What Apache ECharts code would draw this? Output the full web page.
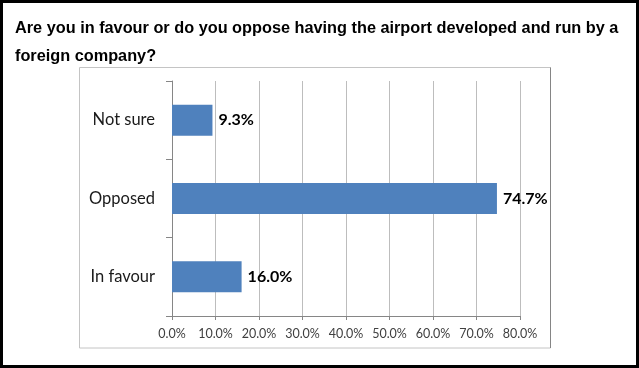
<!DOCTYPE html>
<html>
<head>
<meta charset="utf-8">
<script src="https://cdn.jsdelivr.net/npm/echarts@6/dist/echarts.min.js"></script>
<style>html,body{margin:0;padding:0;background:#fff}#c{width:639px;height:368px}</style>
</head>
<body>
<div id="c"></div>
<script>
const titleText = 'Are you in favour or do you oppose having the airport developed and run by a\nforeign company?';
const categories = ['In favour', 'Opposed', 'Not sure'];
const values = [16.0, 74.7, 9.3];
const xTicks = { min: 0, max: 80, interval: 10 };

const chart = echarts.init(document.getElementById('c'), null, { renderer: 'canvas' });
chart.setOption({
  animation: false,
  backgroundColor: '#fff',
  title: {
    text: titleText,
    left: 10, top: 10,
    textStyle: { fontFamily: 'Liberation Sans, Arial, sans-serif', fontWeight: 'bold', fontSize: 16.3, color: '#000', lineHeight: 28 }
  },
  graphic: [
    { type: 'rect', shape: { x: 79.5, y: 67.5, width: 471, height: 280.5 }, style: { fill: 'none', stroke: '#c4c4c4', lineWidth: 1 }, z: -1 },
    { type: 'line', shape: { x1: 550.5, y1: 67.5, x2: 550.5, y2: 348 }, style: { stroke: '#858585', lineWidth: 1 }, z: -1 },
    { type: 'rect', shape: { x: 1.5, y: 1.5, width: 636, height: 365 }, style: { fill: 'none', stroke: '#000', lineWidth: 3 }, z: 10 }
  ],
  grid: { left: 172, right: 119, top: 81, bottom: 52, containLabel: false },
  xAxis: {
    type: 'value', min: xTicks.min, max: xTicks.max, interval: xTicks.interval,
    axisLine: { show: true, lineStyle: { color: '#868686' } },
    axisTick: { show: true, length: 4, lineStyle: { color: '#868686' } },
    axisLabel: { margin: 11, fontFamily: 'Lato, sans-serif', fontSize: 12.5, color: '#404040', formatter: v => v.toFixed(1) + '%' },
    splitLine: { show: true, lineStyle: { color: '#bdbdbd' } }
  },
  yAxis: {
    type: 'category', data: categories,
    axisLine: { show: true, lineStyle: { color: '#868686' } },
    axisTick: { show: true, length: 6, lineStyle: { color: '#868686' } },
    axisLabel: { margin: 17, fontFamily: 'Lato, sans-serif', fontSize: 16.5, color: '#1a1a1a' },
    splitLine: { show: false }
  },
  series: [{
    type: 'bar', data: values, barWidth: 31,
    itemStyle: { color: '#4f81bd' },
    label: { show: true, position: 'right', distance: 6, fontFamily: 'Lato, sans-serif', fontWeight: 'bold', fontSize: 16, color: '#000', formatter: p => p.value.toFixed(1) + '%' }
  }]
});
</script>
</body>
</html>
